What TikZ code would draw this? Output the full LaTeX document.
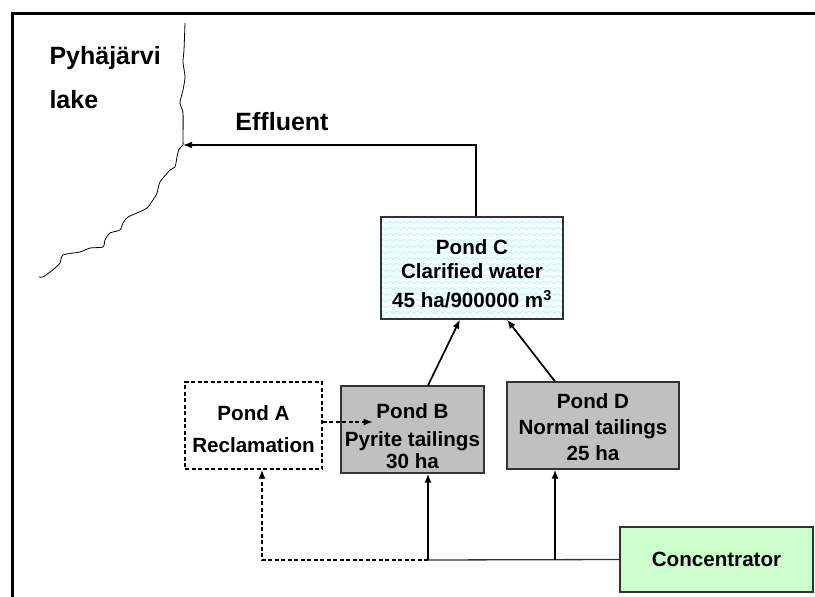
\documentclass[tikz,border=0pt]{standalone}
\usepackage{fontspec}
\setmainfont{Liberation Sans}
\usetikzlibrary{arrows.meta,positioning,calc,decorations.pathmorphing,backgrounds}
\definecolor{Ink}{HTML}{000000}
\definecolor{Edge}{HTML}{333333}
\definecolor{Tailing}{HTML}{C0C0C0}
\definecolor{Water}{HTML}{F2FFFF}
\definecolor{Ripple}{HTML}{BDEFF2}
\definecolor{Mint}{HTML}{CCFFCC}
\newcommand\padtop[1]{\rule{0pt}{#1}}

\begin{document}
\begin{tikzpicture}[x=1pt,y=-1pt,font=\bfseries\fontsize{20.6}{24}\selectfont,>={Latex[length=9pt,width=7pt]},pond/.style={draw=Edge,line width=1.2pt,align=center,inner sep=0pt},flow/.style={->,line width=1.7pt,draw=Ink},dflow/.style={->,line width=1.4pt,dash pattern=on 4pt off 2.5pt,draw=Ink},ripple/.style={draw=Ripple,line width=0.6pt,decorate,decoration={snake,amplitude=1.2pt,segment length=7pt}},big/.style={font=\bfseries\fontsize{25}{29}\selectfont}]
 \useasboundingbox (0,0) rectangle (815,597);
 \draw[line width=3pt] (815,13) -- (12,13) -- (12,597);
 % lake and shore
 \node[big,anchor=west] (lake1) at (46,58) {Pyhäjärvi};
 \node[big,anchor=west] (lake2) at (46,100) {lake};
 \coordinate (inlet) at (183,145);
 \draw[line width=0.8pt] plot[smooth,tension=0.4] coordinates {(185,23) (184,50) (183,62) (185,77) (183,90) (180,103) (183,113) (183,140) (inlet) (179,149) (177,157) (175,167) (170,170) (160,182) (157,193) (153,200) (147,208) (137,213) (128,217) (123,223) (120,230) (110,233) (105,240) (103,247) (90,248) (80,252) (63,255) (60,263) (55,268) (50,272) (43,277) (39,277)};
 % ponds
 \node[pond,draw=Ink,line width=1.4pt,dash pattern=on 4pt off 2.5pt,minimum width=137pt,minimum height=87pt] (pondA) at (253.5,425.5) {\padtop{23pt}Pond A\\[8pt]Reclamation};
 \node[pond,fill=Tailing,minimum width=143pt,minimum height=87pt] (pondB) at (412.5,429.5) {\padtop{29pt}Pond B\\[4pt]Pyrite tailings\\[-2pt]30 ha};
 \node[pond,minimum width=182pt,minimum height=102pt] (pondC) at (472,268) {\padtop{27pt}Pond C\\[0pt]Clarified water\\[5pt]45 ha/900000 m\textsuperscript{3}};
 \node[pond,fill=Tailing,minimum width=172pt,minimum height=87pt] (pondD) at (593,425.5) {\padtop{19pt}Pond D\\[2pt]Normal tailings\\[2pt]25 ha};
 \node[pond,fill=Mint,minimum width=193pt,minimum height=65pt] (conc) at (716.5,559.5) {Concentrator};
 \begin{scope}[on background layer]
  \fill[Water] (pondC.south west) rectangle (pondC.north east);
  \clip (pondC.south west) rectangle (pondC.north east);
  \foreach \r in {0,...,17} \draw[ripple] ([yshift=-\r*6pt]pondC.north west) -- ++(190,0);
 \end{scope}
 % effluent
 \node[big] (eff) at (282,122) {Effluent};
 \draw[flow] ([xshift=4pt]pondC.north) |- (inlet);
 % connectors
 \draw[flow] ([xshift=15.5pt]pondB.north) -- ([xshift=-12pt]pondC.south);
 \draw[flow] ([xshift=-38pt]pondD.north) -- ([xshift=35pt]pondC.south);
 \coordinate (jB) at (428,560);
 \coordinate (jD) at (555,560);
 \draw[line width=1.3pt,draw=Edge] (conc.west) -- (jB);
 \draw[flow] (jB) -- (jB |- pondB.south);
 \draw[flow] (jD) -- (jD |- pondD.south);
 \draw[dflow] (jB) -| ([xshift=8.5pt]pondA.south);
 \draw[dflow] ([yshift=3.5pt]pondA.east) -- ++(50,0);
\end{tikzpicture}
\end{document}
